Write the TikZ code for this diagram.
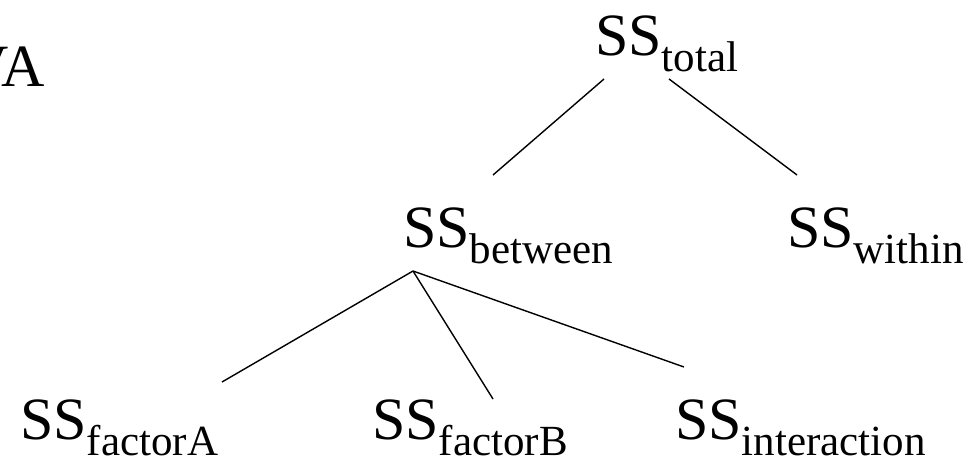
\documentclass[tikz,border=0pt]{standalone}
\usepackage{fontspec}
\setmainfont{Liberation Serif}
\newcommand\bigsz{\fontsize{60}{72}\selectfont}
\newcommand\subsz{\fontsize{43}{50}\selectfont}
\newcommand\sstext[1]{SS\raisebox{-16pt}{\subsz #1}}
\begin{document}
\begin{tikzpicture}[x=1pt,y=-1pt,
  lbl/.style={anchor=base west,inner sep=0pt,font=\bigsz},
  edge/.style={line width=1.4pt,line cap=butt}]
\useasboundingbox (0,0) rectangle (968,459);
% title fragment
\node[anchor=base east,inner sep=0pt,font=\bigsz] (title) at (45,86) {ANOVA};
% nodes
\node[lbl] (total) at (595,55) {\sstext{total}};
\node[lbl] (between) at (403,247) {\sstext{between}};
\node[lbl] (within) at (787,247) {\sstext{within}};
\node[lbl] (facA) at (20,439) {\sstext{factorA}};
\node[lbl] (facB) at (372,439) {\sstext{factorB}};
\node[lbl] (inter) at (675,439) {\sstext{interaction}};
% connector end points
\coordinate (totL) at (604,79);
\coordinate (totR) at (669,79);
\coordinate (betTop) at (493,175);
\coordinate (witTop) at (797,175);
\coordinate (betBot) at (413,271);
\coordinate (aTop) at (222,382);
\coordinate (bTop) at (493,399);
\coordinate (iTop) at (684,367);
% connectors
\draw[edge] (totL) -- (betTop);
\draw[edge] (totR) -- (witTop);
\draw[edge] (betBot) -- (aTop);
\draw[edge] (betBot) -- (bTop);
\draw[edge] (betBot) -- (iTop);
\end{tikzpicture}
\end{document}
